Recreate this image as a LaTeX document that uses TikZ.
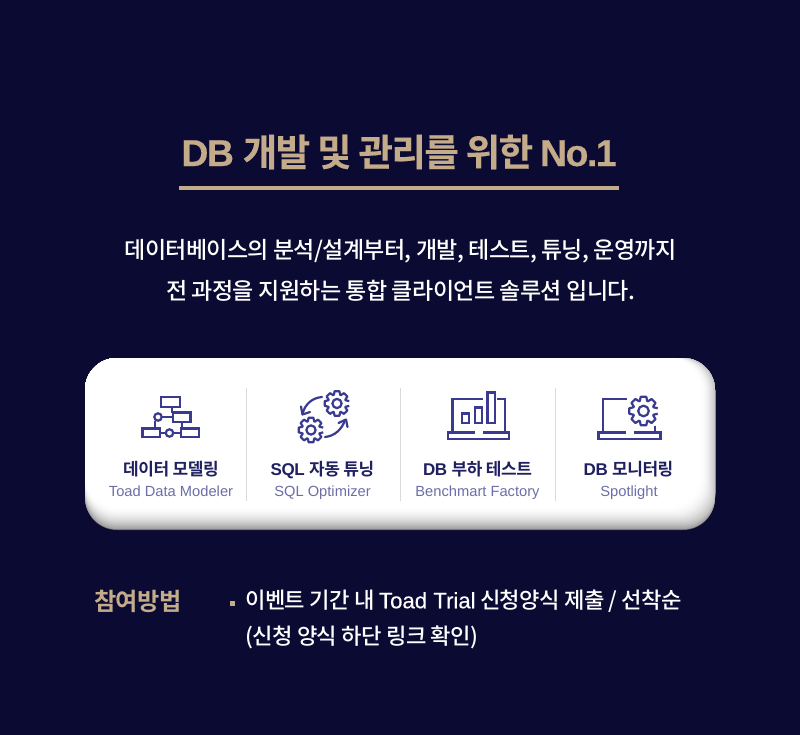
\documentclass[tikz,border=0pt]{standalone}
\usepackage{fontspec}
\setmainfont{Noto Sans CJK KR}
\newfontfamily\krb[LetterSpace=-2.5]{Noto Sans CJK KR Bold}
\newfontfamily\krm[LetterSpace=-2.8]{Noto Sans CJK KR Medium}
\newfontfamily\krt[LetterSpace=-4,FakeBold=0.4]{Noto Sans CJK KR Bold}
\newfontfamily\latt[LetterSpace=-4,FakeBold=0.4]{Liberation Sans Bold}
\newfontfamily\latr{Liberation Sans}
\newfontfamily\latm[FakeBold=0.3]{Liberation Sans}
\newfontfamily\latb[LetterSpace=-2.5]{Liberation Sans Bold}
\definecolor{bgnavy}{HTML}{0A0A33}
\definecolor{gold}{HTML}{C4AB8A}
\definecolor{iconblue}{HTML}{3A3A90}
\definecolor{headnavy}{HTML}{1F2060}
\definecolor{subblue}{HTML}{6C6EA8}
\definecolor{divgray}{HTML}{D9D9D9}
\tikzset{
  x=1pt,y=-1pt,
  title/.style={text=gold,inner sep=0pt,anchor=center,font=\fontsize{37.4}{44}\selectfont},
  body/.style={text=white,inner sep=0pt,anchor=center,font=\fontsize{23}{28}\krm},
  head/.style={text=headnavy,inner sep=0pt,anchor=base,font=\fontsize{17}{20}\krb},
  sub/.style={text=subblue,inner sep=0pt,anchor=base,font=\fontsize{14.7}{18}\latr},
  icon/.style={draw=iconblue,line width=2.2pt,line join=miter},
  divider/.style={draw=divgray,line width=1pt},
  method/.style={text=white,inner sep=0pt,anchor=west,font=\fontsize{22.2}{28}\krm},
}
% gear: centre x, centre y, outer radius, hole radius
\newcommand{\geardraw}[4]{%
  \pgfmathsetmacro{\gi}{#3*0.74}
  \draw[icon,line join=round] ($(#1,#2)+(11:#3)$)
    \foreach \a in {0,45,...,315} {
      -- ($(#1,#2)+(\a+11:#3)$) -- ($(#1,#2)+(\a+20:\gi)$) -- ($(#1,#2)+(\a+25:\gi)$)
      -- ($(#1,#2)+(\a+34:#3)$)
    } ;
  \draw[icon] (#1,#2) circle[radius=#4];
}
\usetikzlibrary{calc,arrows.meta}
\begin{document}
\begin{tikzpicture}
\useasboundingbox (0,0) rectangle (800,735);
\fill[bgnavy] (0,0) rectangle (800,735);
\node[title] (t1) at (399,152) {\latt DB \krt 개발 및 관리를 위한 \latt No.1};
\fill[gold] (179,186.5) rectangle (619,190);
\node[body] (b1) at (400.5,251) {데이터베이스의 분석/설계부터, 개발, 테스트, 튜닝, 운영까지};
\node[body] (b2) at (400.5,291) {전 과정을 지원하는 통합 클라이언트 솔루션 입니다.};
% card with inner shadow
\fill[black!60!white,rounded corners=32pt] (85,358) rectangle (715,530);
\foreach \i in {1,...,40}{
  \pgfmathsetmacro{\w}{100-40*(1-\i/40)^2}
  \pgfmathsetmacro{\ri}{max(0,\i-10)*0.5}
  \colorlet{cc}{white!\w!black}
  \fill[cc,rounded corners=32pt] (85,358) rectangle ({715-\ri},{530-\i*0.6});
}
% dividers
\draw[divider] (246.5,388) -- (246.5,501);
\draw[divider] (400.5,388) -- (400.5,501);
\draw[divider] (555.5,388) -- (555.5,501);
% icon 1
\draw[icon] (161,397) rectangle (180,407);
\draw[icon] (173,412.5) rectangle (190.5,422);
\draw[icon] (142.5,428.5) rectangle (160,437);
\draw[icon] (181,428.5) rectangle (199,437);
\draw[icon] (158,417) circle[radius=3.7];
\draw[icon] (169.5,433) circle[radius=3.7];
\draw[icon] (172,407) -- (172,412.5);
\draw[icon] (161.7,417) -- (173,417);
\draw[icon] (182,422) -- (182,428.5);
\draw[icon] (155,420.5) -- (155,428.5);
\draw[icon] (160,433) -- (165.8,433);
\draw[icon] (173.2,433) -- (181,433);
% icon 2
\geardraw{337}{403.5}{12.5}{4.6}
\geardraw{311}{430}{12.5}{4.6}
\draw[icon,line cap=round] (322,397) .. controls (312,398) and (305,404) .. (302.5,414);
\draw[icon,line cap=round,line join=round] (301,406.5) -- (302.5,414.5) -- (310,412);
\draw[icon,line cap=round] (325,437) .. controls (335,436) and (342,429) .. (345,420);
\draw[icon,line cap=round,line join=round] (338.5,423) -- (346,419.5) -- (347.5,427);
% icon 3
\draw[icon] (483,399) -- (452.5,399) -- (452.5,432);
\draw[icon] (497,399) -- (505,399) -- (505,432);
\draw[icon] (475,432.5) -- (448,432.5) -- (448,439) -- (509,439) -- (509,432.5) -- (483,432.5);
\draw[icon] (462,413.5) rectangle (469,423);
\draw[icon] (475,407.5) rectangle (482,423);
\draw[icon] (487.5,392.5) rectangle (495,423);
% icon 4
\draw[icon] (627,399) -- (603,399) -- (603,432);
\draw[icon] (626,432.5) -- (598.5,432.5) -- (598.5,439) -- (660.5,439) -- (660.5,432.5) -- (634,432.5);
\draw[icon] (655,425.5) -- (655,432.5);
\geardraw{643.5}{411}{14.5}{5.3}
% labels
\node[head] (h1) at (171,475.5) {데이터 모델링};
\node[sub] (s1) at (171,496) {Toad Data Modeler};
\node[head] (h2) at (322.5,475.5) {\latb SQL \krb 자동 튜닝};
\node[sub] (s2) at (322.5,496) {SQL Optimizer};
\node[head] (h3) at (477.5,475.5) {\latb DB \krb 부하 테스트};
\node[sub] (s3) at (477.5,496) {Benchmart Factory};
\node[head] (h4) at (628.5,475.5) {\latb DB \krb 모니터링};
\node[sub] (s4) at (629,496) {Spotlight};
% method
\node[text=gold,inner sep=0pt,anchor=west,font=\fontsize{24.2}{28}\krb] (m0) at (94,601) {참여방법};
\fill[gold] (229.5,601) rectangle (234.5,606);
\node[method] (m1) at (245,601) {이벤트 기간 내 {\latm Toad Trial} 신청양식 제출 / 선착순};
\node[method] (m2) at (245,637) {(신청 양식 하단 링크 확인)};
\end{tikzpicture}
\end{document}
